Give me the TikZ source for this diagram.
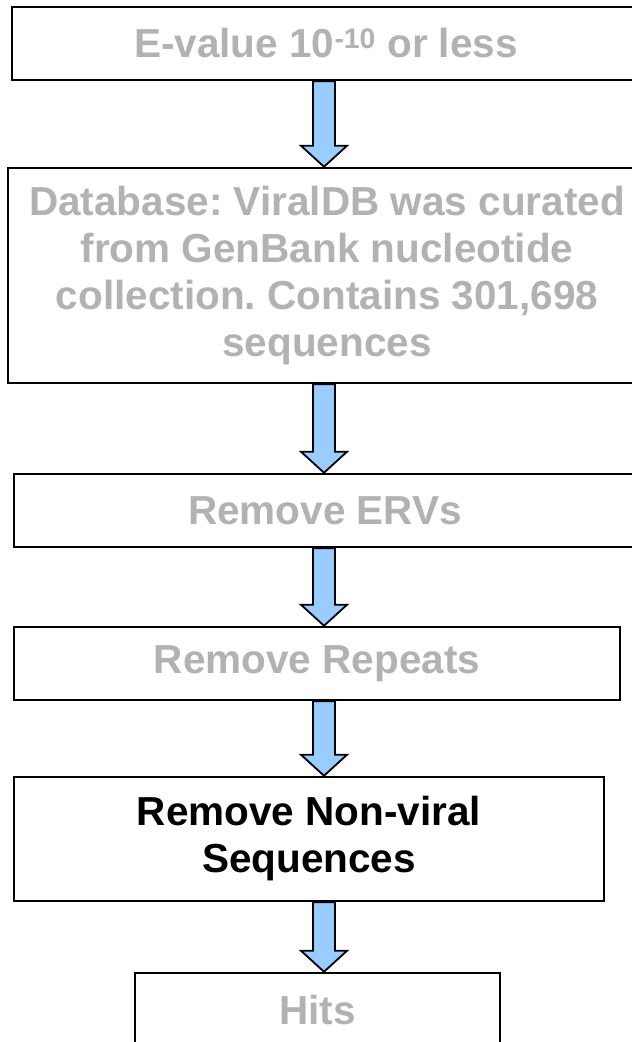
\documentclass[tikz,border=0pt]{standalone}
\usepackage{fontspec}
\setmainfont{Liberation Sans}
\usetikzlibrary{calc}
\frenchspacing
\definecolor{fadedtext}{RGB}{178,178,178}
\definecolor{arrowblue}{RGB}{153,204,255}
\tikzset{
  stage/.style={draw=black, line width=2.5pt, fill=white, inner sep=0pt,
    align=center, font=\fontsize{40.5}{47}\selectfont\bfseries, text=fadedtext},
  current/.style={stage, text=black},
  flow/.style={draw=black, line width=1.8pt, fill=arrowblue, line join=miter},
}
% block arrow from the bottom of one stage to the top of the next
\newcommand\flowarrow[2]{%
  \draw[flow] let \p1=(#1.south), \p2=(#2.north) in
    (313pt,\y1) -- (335pt,\y1) -- (335pt,\y2+21pt) -- (347pt,\y2+21pt)
    -- (324pt,\y2) -- (301pt,\y2+21pt) -- (313pt,\y2+21pt) -- cycle;}

\begin{document}
\begin{tikzpicture}[x=1pt,y=-1pt]
\useasboundingbox (0,0) rectangle (632,1042);

\node[stage, minimum width=628, minimum height=73] (evalue) at (326,43.5)
  {E-value 10\textsuperscript{-10} or less};
\node[stage, minimum width=638, minimum height=215] (database) at (327,275.5)
  {Database: ViralDB was curated\\from GenBank nucleotide\\collection. Contains 301,698\\sequences};
\node[stage, minimum width=622, minimum height=73] (erv) at (325,510.5)
  {Remove ERVs};
\node[stage, minimum width=606, minimum height=73] (repeats) at (317,663.5)
  {Remove Repeats};
\node[current, minimum width=590, minimum height=124] (nonviral) at (309,839)
  {Remove Non-viral\\Sequences};
\node[stage, minimum width=365, minimum height=74] (hits) at (317.5,1010)
  {Hits};

\flowarrow{evalue}{database}
\flowarrow{database}{erv}
\flowarrow{erv}{repeats}
\flowarrow{repeats}{nonviral}
\flowarrow{nonviral}{hits}
\end{tikzpicture}
\end{document}
